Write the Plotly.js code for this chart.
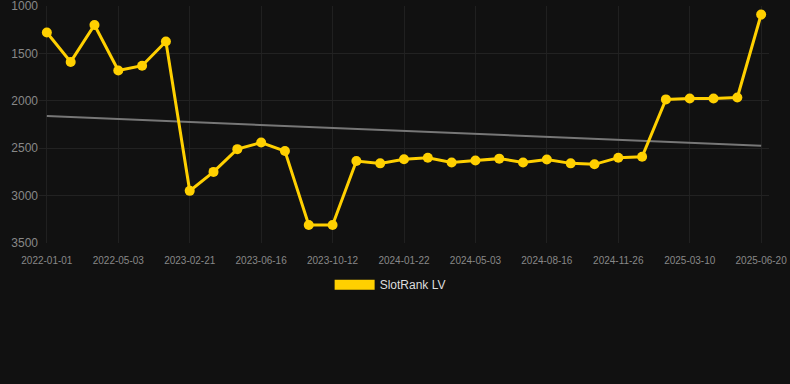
<!DOCTYPE html>
<html>
<head>
<meta charset="utf-8">
<script src="https://cdn.plot.ly/plotly-3.0.1.min.js"></script>
<style>
html,body{margin:0;padding:0;background:#111111;}
#chart{width:790px;height:384px;}
</style>
</head>
<body>
<div id="chart"></div>
<script>
// Dates (every third one is a labelled tick; the in-between ones are estimates)
var dates = [
  "2022-01-01","2022-02-11","2022-03-24","2022-05-03","2022-08-10","2022-11-16",
  "2023-02-21","2023-03-30","2023-05-08","2023-06-16","2023-07-25","2023-09-02",
  "2023-10-12","2023-11-15","2023-12-19","2024-01-22","2024-02-24","2024-03-30",
  "2024-05-03","2024-06-06","2024-07-11","2024-08-16","2024-09-22","2024-10-20",
  "2024-11-26","2024-12-29","2025-02-03","2025-03-10","2025-04-13","2025-05-17",
  "2025-06-20"
];
var rankValues = [
  1280, 1590, 1200, 1680, 1630, 1375,
  2950, 2750, 2510, 2440, 2530, 3310,
  3310, 2635, 2660, 2617, 2600, 2650,
  2630, 2610, 2650, 2620, 2660, 2670,
  2600, 2590, 1985, 1975, 1975, 1965,
  1090
];
var trendDates = ["2022-01-01", "2025-06-20"];
var trendValues = [2160, 2475];
var seriesName = "SlotRank LV";
var yTicks = [1000, 1500, 2000, 2500, 3000, 3500];

var yellow = "#FFD000";

var traces = [
  {
    x: trendDates, y: trendValues, type: "scatter", mode: "lines",
    line: {color: "#777777", width: 2}, hoverinfo: "skip", showlegend: false
  },
  {
    x: dates, y: rankValues, type: "scatter", mode: "lines+markers",
    line: {color: yellow, width: 3}, marker: {color: yellow, size: 10},
    name: seriesName, showlegend: false
  },
  {
    x: [dates[0]], y: [null], type: "scatter", mode: "lines",
    line: {color: yellow, width: 11}, name: seriesName, showlegend: true
  }
];

var layout = {
  width: 790, height: 384,
  paper_bgcolor: "#111111", plot_bgcolor: "#111111",
  margin: {l: 39, r: 21, t: 6, b: 141},
  font: {family: "Liberation Sans, Arial, sans-serif", color: "#888888"},
  xaxis: {
    type: "category",
    categoryorder: "array", categoryarray: dates,
    range: [-0.33, 30.33],
    tickmode: "array",
    tickvals: dates.filter(function(d, i){ return i % 3 === 0; }),
    ticktext: dates.filter(function(d, i){ return i % 3 === 0; }),
    tickangle: 0,
    showgrid: true, gridcolor: "#202020", gridwidth: 1,
    zeroline: false, showline: false,
    ticks: "outside", ticklen: 8, tickcolor: "rgba(0,0,0,0)",
    tickfont: {size: 10, color: "#888888"}
  },
  yaxis: {
    range: [3500, 1000],
    tickmode: "array", tickvals: yTicks,
    showgrid: true, gridcolor: "#222222", gridwidth: 1,
    zeroline: false, showline: false, ticks: "",
    ticklabeloverflow: "allow",
    tickfont: {size: 12, color: "#888888"}
  },
  showlegend: true,
  legend: {
    orientation: "h", x: 0.481, xanchor: "center", y: -0.115, yanchor: "top",
    font: {size: 12, color: "#dddddd"}, itemwidth: 40,
    bgcolor: "rgba(0,0,0,0)"
  }
};

Plotly.newPlot("chart", traces, layout, {displayModeBar: false, staticPlot: true});
</script>
</body>
</html>
